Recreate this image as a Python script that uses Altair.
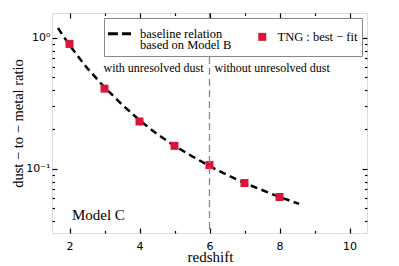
import altair as alt
import pandas as pd

# ---- data ----
z_pts = [2, 3, 4, 5, 6, 7, 8]
dtm_pts = [0.90, 0.41, 0.23, 0.15, 0.107, 0.078, 0.061]

z_curve = [1.67, 2.0, 2.5, 3.0, 3.5, 4.0, 4.5, 5.0, 5.5, 6.0, 6.5, 7.0, 7.5, 8.0, 8.56]
dtm_curve = [1.19, 0.88, 0.59, 0.42, 0.31, 0.235, 0.185, 0.15, 0.125, 0.105, 0.09, 0.078, 0.069, 0.061, 0.054]

x_major = [2, 4, 6, 8, 10]
x_minor = [3, 5, 7, 9]
y_major = [0.1, 1.0]
y_minor = [0.04, 0.05, 0.06, 0.07, 0.08, 0.09, 0.2, 0.3, 0.4, 0.5, 0.6, 0.7, 0.8, 0.9]

split_z = [6]
ann_text = ["with unresolved dust", "without unresolved dust"]
ann_x = [6, 6]
ann_y = [0.59, 0.59]
model_label = ["Model C"]
model_x = [2.07]
model_y = [0.0446]

series_names = ["baseline relation", "TNG"]
series_colors = ["black", "#DC143C"]
# legend glyphs: a two-dash line and a square
series_shapes = ["M-1,-0.13H-0.14V0.13H-1Z M0.22,-0.13H1V0.13H0.22Z", "square"]
series_sizes = [529, 64]

SERIF = "Liberation Serif"
SANS = "DejaVu Sans"
TICK = 5
MINOR = 2.5

xs = alt.Scale(domain=[1.5, 10.5], nice=False, zero=False)
ys = alt.Scale(type="log", domain=[0.0324, 1.55], nice=False)
cs = alt.Scale(domain=series_names, range=series_colors)
ss = alt.Scale(domain=series_names, range=series_shapes)
zs = alt.Scale(domain=series_names, range=series_sizes)

is_line = "datum.value == 'baseline relation'"

curve_df = pd.DataFrame({"z": z_curve, "d": dtm_curve})
pts_df = pd.DataFrame({"z": z_pts, "d": dtm_pts, "s": ["TNG"] * len(z_pts)})


def y_tick_axis(orient, values, length):
    # inward ticks: axis line moved inside by `length`, ticks pointing out to the frame
    return alt.Axis(
        orient=orient, values=values, domain=False, grid=False, labels=False,
        title=None, ticks=True, tickSize=length, offset=-length,
        tickColor="black", tickWidth=1.2, zindex=5,
    )


def x_tick_axis(orient, values, length):
    # inward ticks via a negative tick length
    return alt.Axis(
        orient=orient, values=values, domain=False, grid=False, labels=False,
        title=None, ticks=True, tickSize={"expr": f"-{length}"},
        tickColor="black", tickWidth=1.2, zindex=5,
    )


legend = alt.Legend(
    title=None,
    orient="top-right",
    offset=5,
    direction="horizontal",
    strokeColor="#888888",
    fillColor="white",
    padding=4,
    cornerRadius=0,
    labelFont=SERIF,
    labelFontSize=12.5,
    labelColor="black",
    labelOffset=9,
    columnPadding=24,
    symbolStrokeWidth=0,
    symbolOpacity=1,
    zindex=6,
    labelExpr=f"{is_line} ? ['baseline relation', 'based on Model B'] : 'TNG : best \u2212 fit'",
)

curve = alt.Chart(curve_df).mark_line(
    strokeDash=[7, 4.5], strokeWidth=2.5, color="black"
).encode(
    x=alt.X("z:Q", scale=xs, axis=alt.Axis(
        orient="bottom", values=x_major, format="d", domain=False, grid=False,
        ticks=True, tickSize={"expr": f"-{TICK}"}, tickColor="black", tickWidth=1.2, zindex=5,
        labelFont=SANS, labelFontSize=11, labelColor="black", labelPadding=2 + 2 * TICK,
        title="redshift", titleFont=SERIF, titleFontSize=15, titleFontWeight="normal",
        titleColor="black", titleX=158, titleY=23, titleBaseline="middle")),
    y=alt.Y("d:Q", scale=ys, axis=alt.Axis(
        orient="left", values=y_major, domain=False, grid=False,
        ticks=True, tickSize=TICK, offset=-TICK, tickColor="black", tickWidth=1.2, zindex=5,
        labelExpr="datum.value == 1 ? '10\u2070' : '10\u207b\u00b9'",
        labelFont=SANS, labelFontSize=11, labelColor="black", labelPadding=2,
        title="dust \u2212 to \u2212 metal ratio", titleFont=SERIF, titleFontSize=14.5,
        titleFontWeight="normal", titleColor="black", titleAngle=-90,
        titleX=-34 - TICK, titleY=110, titleBaseline="middle", titleAlign="center")),
)

points = alt.Chart(pts_df).mark_point(filled=True, opacity=1).encode(
    x=alt.X("z:Q", scale=xs, axis=x_tick_axis("top", x_major, TICK)),
    y=alt.Y("d:Q", scale=ys, axis=y_tick_axis("right", y_major, TICK)),
    color=alt.Color("s:N", scale=cs, legend=legend),
    shape=alt.Shape("s:N", scale=ss, legend=legend),
    size=alt.Size("s:N", scale=zs, legend=legend),
)

rule = alt.Chart(pd.DataFrame({"z": split_z})).mark_rule(
    color="#888888", strokeDash=[7, 4], strokeWidth=1.3
).encode(x=alt.X("z:Q", scale=xs, axis=None))

ann_df = pd.DataFrame({"t": ann_text, "z": ann_x, "d": ann_y})
ann_left = alt.Chart(ann_df.iloc[[0]]).mark_text(
    align="right", baseline="middle", dx=-6, font=SERIF, fontSize=12, color="black"
).encode(
    x=alt.X("z:Q", scale=xs, axis=x_tick_axis("bottom", x_minor, MINOR)),
    y=alt.Y("d:Q", scale=ys, axis=y_tick_axis("left", y_minor, MINOR)),
    text="t:N",
)
ann_right = alt.Chart(ann_df.iloc[[1]]).mark_text(
    align="left", baseline="middle", dx=5, font=SERIF, fontSize=12, color="black"
).encode(
    x=alt.X("z:Q", scale=xs, axis=x_tick_axis("top", x_minor, MINOR)),
    y=alt.Y("d:Q", scale=ys, axis=y_tick_axis("right", y_minor, MINOR)),
    text="t:N",
)

model_df = pd.DataFrame({"t": model_label, "z": model_x, "d": model_y})
model = alt.Chart(model_df).mark_text(
    align="left", baseline="middle", font=SERIF, fontSize=15, color="black"
).encode(
    x=alt.X("z:Q", scale=xs, axis=None),
    y=alt.Y("d:Q", scale=ys, axis=None),
    text="t:N",
)

chart = alt.layer(curve, points, ann_left, ann_right, rule, model).resolve_axis(
    x="independent", y="independent"
).properties(
    width=315, height=220,
    autosize=alt.AutoSizeParams(type="none"),
    padding={"left": 44, "top": 5, "right": 16, "bottom": 33},
).configure_view(
    stroke="black", strokeWidth=1.6
).configure(
    style={"guide-label": {"lineHeight": 11.5}}
)

chart.save("out.html", embed_options={"renderer": "svg", "actions": False})
